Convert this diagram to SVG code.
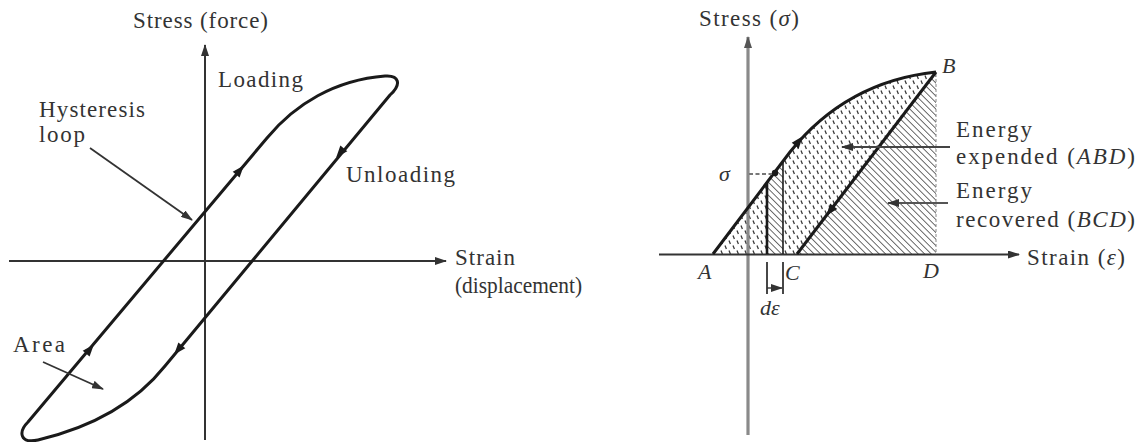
<svg xmlns="http://www.w3.org/2000/svg" width="1143" height="442" viewBox="0 0 1143 442">
<style>
  .t { font-family: "Liberation Serif", "Times New Roman", serif; font-size: 23px; fill: #333; }
  .i { font-family: "Liberation Serif", "Times New Roman", serif; font-style: italic; font-size: 22px; fill: #333; }
  .ax { stroke: #333; stroke-width: 2; fill: none; }
  .axg { stroke: #8a8a8a; stroke-width: 3.2; fill: none; }
  .curve { stroke: #1a1a1a; stroke-width: 3; fill: none; stroke-linejoin: round; }
  .ptr { stroke: #333; stroke-width: 1.8; fill: none; }
  .ah { fill: #1a1a1a; }
</style>
<defs>
  <marker id="arr" viewBox="0 0 12 8" refX="11" refY="4" markerWidth="12" markerHeight="8" markerUnits="userSpaceOnUse" orient="auto">
    <path d="M0,0 L12,4 L0,8 Z" fill="#333"/>
  </marker>
  <marker id="arrg" viewBox="0 0 12 8" refX="11" refY="4" markerWidth="12" markerHeight="8" markerUnits="userSpaceOnUse" orient="auto">
    <path d="M0,0 L12,4 L0,8 Z" fill="#555"/>
  </marker>
  <pattern id="hatch" width="4.6" height="4.6" patternUnits="userSpaceOnUse" patternTransform="rotate(-45)">
    <line x1="0" y1="0" x2="0" y2="4.6" stroke="#3a3a3a" stroke-width="1.5"/>
  </pattern>
  <pattern id="dots" width="8" height="10" patternUnits="userSpaceOnUse">
    <path d="M1,0.5 L2.4,4 M5,5.5 L6.4,9" stroke="#3a3a3a" stroke-width="1.3"/>
  </pattern>
  <path id="tri" d="M6,0 L-6,-4.5 L-6,4.5 Z"/>
</defs>

<!-- LEFT DIAGRAM -->
<g id="left-axes">
  <line class="ax" x1="205" y1="440" x2="205" y2="45" marker-end="url(#arr)"/>
  <line class="ax" x1="9" y1="261" x2="446" y2="261" marker-end="url(#arr)"/>
</g>
<g id="hysteresis-loop">
  <path class="curve" d="M28,422 L267,138 C295,104 335,80 385,76 C399,75 402,84 390,95 L165,366 C130,410 80,430 38,440 C20,444 18,432 28,422 Z"/>
  <use href="#tri" class="ah" transform="translate(240,170) rotate(-49.9)"/>
  <use href="#tri" class="ah" transform="translate(90,349) rotate(-49.9)"/>
  <use href="#tri" class="ah" transform="translate(340,153) rotate(129.7)"/>
  <use href="#tri" class="ah" transform="translate(178,350) rotate(129.7)"/>
</g>
<g id="left-pointers">
  <line class="ptr" x1="90" y1="148" x2="192" y2="220" marker-end="url(#arr)"/>
  <line class="ptr" x1="43" y1="362" x2="103" y2="389" marker-end="url(#arr)"/>
</g>
<g id="left-labels">
  <text class="t" x="133" y="28" textLength="135" lengthAdjust="spacing">Stress (force)</text>
  <text class="t" x="218" y="87" textLength="85" lengthAdjust="spacing">Loading</text>
  <text class="t" x="39" y="117" textLength="106" lengthAdjust="spacing">Hysteresis</text>
  <text class="t" x="39" y="142" textLength="46" lengthAdjust="spacing">loop</text>
  <text class="t" x="346" y="182" textLength="109" lengthAdjust="spacing">Unloading</text>
  <text class="t" x="455" y="265" textLength="60" lengthAdjust="spacing">Strain</text>
  <text class="t" x="455" y="293" font-size="21.5" textLength="127" lengthAdjust="spacingAndGlyphs">(displacement)</text>
  <text class="t" x="13" y="352" textLength="52" lengthAdjust="spacing">Area</text>
</g>

<!-- RIGHT DIAGRAM -->
<g id="right-regions">
  <path d="M713,254 L790,152 C830,102 880,78 936,72 L797,254 Z" fill="url(#dots)"/>
  <path d="M936,72 L936,254 L797,254 Z" fill="url(#hatch)"/>
  <path d="M767,254 L767,182 L783,161 L783,254 Z" fill="#fff"/>
  <path d="M767,254 L767,182 L783,161 L783,254 Z" fill="url(#hatch)"/>
  <line x1="936" y1="74" x2="936" y2="254" stroke="#888" stroke-width="1" stroke-dasharray="3,2"/>
</g>
<g id="right-axes">
  <line class="axg" x1="748" y1="435" x2="748" y2="37" marker-end="url(#arrg)"/>
  <line class="ax" x1="659" y1="254.5" x2="1019" y2="254.5" marker-end="url(#arr)"/>
</g>
<g id="right-curves">
  <path class="curve" d="M713,254 L790,152 C830,102 880,78 936,72"/>
  <line class="curve" x1="936" y1="72" x2="797" y2="254"/>
  <line x1="767" y1="254" x2="767" y2="183" stroke="#1a1a1a" stroke-width="2.6"/>
  <line x1="783" y1="254" x2="783" y2="162" stroke="#1a1a1a" stroke-width="1.6"/>
  <line x1="749" y1="174" x2="773" y2="174" stroke="#777" stroke-width="2" stroke-dasharray="4,2.5"/>
  <circle cx="775" cy="173" r="3.2" fill="#1a1a1a"/>
  <use href="#tri" class="ah" transform="translate(799,141) rotate(-51.3)"/>
  <use href="#tri" class="ah" transform="translate(830,211) rotate(127.4)"/>
</g>
<g id="dimension">
  <line x1="767" y1="262" x2="767" y2="294" stroke="#333" stroke-width="1.8"/>
  <line x1="783" y1="262" x2="783" y2="294" stroke="#333" stroke-width="1.8"/>
  <line x1="767" y1="288" x2="782" y2="288" stroke="#333" stroke-width="1.4" marker-end="url(#arr)"/>
</g>
<g id="right-pointers">
  <line x1="950" y1="147" x2="842" y2="147" stroke="#444" stroke-width="2" marker-end="url(#arr)"/>
  <line x1="948" y1="203" x2="888" y2="203" stroke="#555" stroke-width="2" marker-end="url(#arr)"/>
</g>
<g id="right-labels">
  <text class="t" x="699" y="26" textLength="100" lengthAdjust="spacing">Stress (<tspan font-style="italic">σ</tspan>)</text>
  <text class="i" x="942" y="73" font-size="20">B</text>
  <text class="t" x="956" y="137" textLength="76" lengthAdjust="spacing">Energy</text>
  <text class="t" x="956" y="164" textLength="179" lengthAdjust="spacing">expended (<tspan font-style="italic">ABD</tspan>)</text>
  <text class="t" x="956" y="198" textLength="76" lengthAdjust="spacing">Energy</text>
  <text class="t" x="956" y="227" textLength="179" lengthAdjust="spacing">recovered (<tspan font-style="italic">BCD</tspan>)</text>
  <text class="t" x="1027" y="265" textLength="98" lengthAdjust="spacing">Strain (<tspan font-style="italic">ε</tspan>)</text>
  <text class="i" x="719" y="181">σ</text>
  <text class="i" x="698" y="279">A</text>
  <text class="i" x="785" y="280">C</text>
  <text class="i" x="923" y="278">D</text>
  <text class="i" x="760" y="315">dε</text>
</g>
</svg>
